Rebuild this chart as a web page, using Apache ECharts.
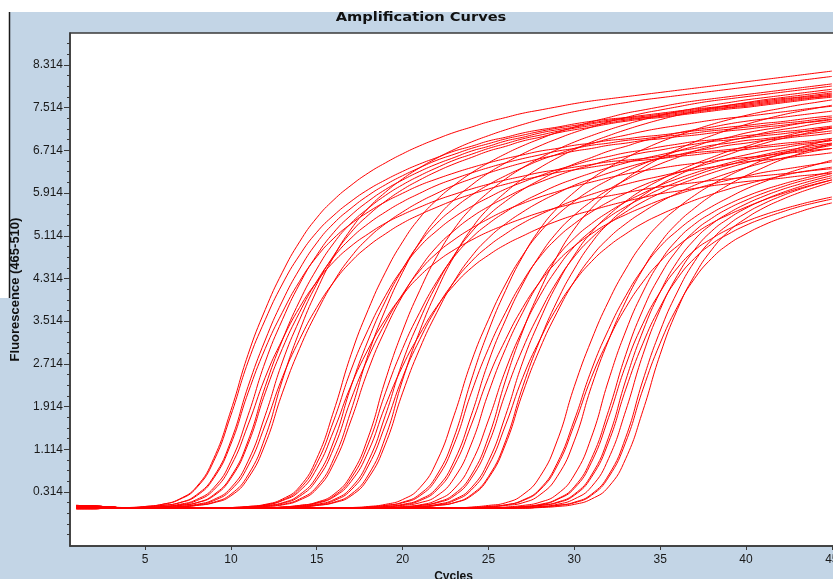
<!DOCTYPE html>
<html>
<head>
<meta charset="utf-8">
<title>Amplification Curves</title>
<script src="https://cdn.jsdelivr.net/npm/echarts@6/dist/echarts.min.js"></script>
<style>
  html, body { margin: 0; padding: 0; background: #c3d5e6; }
  #chart { width: 833px; height: 579px; }
</style>
</head>
<body>
<div id="chart"></div>
<script>
// cycles 1..45
var cycles = [1,2,3,4,5,6,7,8,9,10,11,12,13,14,15,16,17,18,19,20,21,22,23,24,25,26,27,28,29,30,31,32,33,34,35,36,37,38,39,40,41,42,43,44,45];
var xTickLabels = [5, 10, 15, 20, 25, 30, 35, 40, 45];
var yTickLabels = [0.314, 1.114, 1.914, 2.714, 3.514, 4.314, 5.114, 5.914, 6.714, 7.514, 8.314];

// fluorescence read per cycle, grouped by bundle (earliest first)
var groupA = [
  [.05,.04,.03,.02,.04,.08,.18,.41,.94,1.84,2.89,3.73,4.43,5.00,5.45,
   5.79,6.06,6.29,6.48,6.65,6.80,6.93,7.05,7.15,7.25,7.33,7.41,7.47,7.53,7.59,
   7.64,7.68,7.72,7.76,7.80,7.84,7.88,7.92,7.96,8.00,8.04,8.08,8.12,8.16,8.20],
  [0,0,.01,.02,.04,.08,.17,.39,.89,1.75,2.75,3.54,4.21,4.75,5.18,
   5.50,5.76,5.98,6.16,6.32,6.46,6.58,6.70,6.79,6.89,6.96,7.04,7.10,7.15,7.21,
   7.26,7.30,7.33,7.37,7.41,7.45,7.49,7.52,7.56,7.60,7.64,7.68,7.71,7.75,7.79],
  [.06,.05,.03,.01,.03,.06,.11,.24,.57,1.21,2.17,3.00,3.68,4.26,4.72,
   5.07,5.34,5.56,5.75,5.91,6.06,6.18,6.29,6.39,6.48,6.56,6.63,6.70,6.75,6.81,
   6.85,6.90,6.93,6.97,7.00,7.04,7.08,7.11,7.15,7.18,7.22,7.25,7.29,7.33,7.36],
  [.01,.01,.01,.01,.02,.04,.08,.17,.39,.89,1.75,2.75,3.54,4.21,4.75,
   5.18,5.50,5.76,5.98,6.16,6.32,6.46,6.58,6.70,6.79,6.89,6.96,7.04,7.10,7.15,
   7.21,7.26,7.30,7.33,7.37,7.41,7.45,7.49,7.52,7.56,7.60,7.64,7.68,7.71,7.75],
  [.02,.03,.02,.01,.02,.04,.07,.15,.35,.80,1.57,2.46,3.17,3.77,4.25,
   4.63,4.92,5.15,5.35,5.51,5.65,5.78,5.89,5.99,6.08,6.16,6.23,6.30,6.35,6.40,
   6.45,6.50,6.53,6.56,6.60,6.63,6.67,6.70,6.73,6.77,6.80,6.84,6.87,6.90,6.94],
  [.04,.02,.01,.01,.01,.03,.06,.11,.26,.60,1.27,2.29,3.16,3.89,4.49,
   4.98,5.35,5.63,5.87,6.07,6.24,6.39,6.53,6.64,6.75,6.84,6.93,7.00,7.07,7.13,
   7.18,7.23,7.28,7.32,7.35,7.39,7.43,7.47,7.51,7.54,7.58,7.62,7.66,7.70,7.73],
  [.05,.04,.03,.01,.01,.03,.06,.11,.24,.57,1.21,2.17,3.00,3.68,4.26,
   4.72,5.07,5.34,5.56,5.75,5.91,6.06,6.18,6.29,6.39,6.48,6.56,6.63,6.70,6.75,
   6.81,6.85,6.90,6.93,6.97,7.00,7.04,7.08,7.11,7.15,7.18,7.22,7.25,7.29,7.33],
  [0,0,.01,.01,.01,.02,.04,.08,.17,.39,.89,1.75,2.75,3.54,4.21,
   4.75,5.18,5.50,5.76,5.98,6.16,6.32,6.46,6.58,6.70,6.79,6.89,6.96,7.04,7.10,
   7.15,7.21,7.26,7.30,7.33,7.37,7.41,7.45,7.49,7.52,7.56,7.60,7.64,7.68,7.71],
  [.03,.02,.02,.01,.01,.02,.04,.07,.15,.35,.80,1.57,2.46,3.17,3.77,
   4.25,4.63,4.92,5.15,5.35,5.51,5.65,5.78,5.89,5.99,6.08,6.16,6.23,6.30,6.35,
   6.40,6.45,6.50,6.53,6.56,6.60,6.63,6.67,6.70,6.73,6.77,6.80,6.84,6.87,6.90],
  [.06,.05,.03,.01,.01,.01,.03,.06,.11,.24,.57,1.21,2.17,3.00,3.68,
   4.26,4.72,5.07,5.34,5.56,5.75,5.91,6.06,6.18,6.29,6.39,6.48,6.56,6.63,6.70,
   6.75,6.81,6.85,6.90,6.93,6.97,7.00,7.04,7.08,7.11,7.15,7.18,7.22,7.25,7.29],
  [.01,.01,.01,.01,.01,.01,.03,.06,.12,.27,.63,1.34,2.41,3.33,4.09,
   4.73,5.24,5.63,5.93,6.18,6.39,6.57,6.73,6.87,6.99,7.10,7.20,7.29,7.37,7.44,
   7.50,7.56,7.61,7.66,7.70,7.74,7.78,7.82,7.86,7.90,7.94,7.98,8.02,8.06,8.10],
  [.02,.03,.02,.01,.03,.06,.11,.26,.60,1.27,2.29,3.16,3.89,4.49,4.98,
   5.35,5.63,5.87,6.07,6.24,6.39,6.53,6.64,6.75,6.84,6.93,7.00,7.07,7.13,7.18,
   7.23,7.28,7.32,7.35,7.39,7.43,7.47,7.51,7.54,7.58,7.62,7.66,7.70,7.73,7.77]
];

var groupB = [
  [.04,.02,.01,.01,.01,.01,.01,.01,.01,.02,.04,.08,.18,.41,.94,
   1.84,2.89,3.73,4.43,5.00,5.45,5.79,6.06,6.29,6.48,6.65,6.80,6.93,7.05,7.15,
   7.25,7.33,7.41,7.47,7.53,7.59,7.64,7.68,7.72,7.76,7.80,7.84,7.88,7.92,7.96],
  [.05,.04,.03,.01,.01,.01,.01,.01,.01,.02,.04,.07,.16,.37,.85,
   1.66,2.60,3.36,3.99,4.50,4.91,5.21,5.46,5.66,5.83,5.99,6.12,6.24,6.35,6.44,
   6.53,6.60,6.67,6.72,6.78,6.83,6.88,6.91,6.95,6.99,7.02,7.06,7.09,7.13,7.17],
  [0,0,.01,.01,.01,.01,.01,.01,.01,.01,.03,.06,.11,.26,.60,
   1.27,2.29,3.16,3.89,4.49,4.98,5.35,5.63,5.87,6.07,6.24,6.39,6.53,6.64,6.75,
   6.84,6.93,7.00,7.07,7.13,7.18,7.23,7.28,7.32,7.35,7.39,7.43,7.47,7.51,7.54],
  [.03,.02,.02,.01,.01,.01,.01,.01,.01,.01,.03,.05,.10,.23,.54,
   1.14,2.05,2.83,3.48,4.02,4.46,4.79,5.04,5.25,5.43,5.59,5.72,5.84,5.94,6.04,
   6.12,6.20,6.27,6.33,6.38,6.43,6.47,6.51,6.55,6.58,6.61,6.65,6.68,6.72,6.75],
  [.06,.05,.03,.01,.01,.01,.01,.01,.01,.01,.02,.04,.08,.18,.41,
   .94,1.84,2.89,3.73,4.43,5.00,5.45,5.79,6.06,6.29,6.48,6.65,6.80,6.93,7.05,
   7.15,7.25,7.33,7.41,7.47,7.53,7.59,7.64,7.68,7.72,7.76,7.80,7.84,7.88,7.92],
  [.01,.01,.01,.01,.01,.01,.01,.01,.01,.01,.02,.04,.07,.16,.37,
   .85,1.66,2.60,3.36,3.99,4.50,4.91,5.21,5.46,5.66,5.83,5.99,6.12,6.24,6.35,
   6.44,6.53,6.60,6.67,6.72,6.78,6.83,6.88,6.91,6.95,6.99,7.02,7.06,7.09,7.13],
  [.02,.03,.02,.01,.01,.01,.01,.01,.01,.02,.03,.07,.15,.33,.75,
   1.47,2.31,2.99,3.55,4.00,4.36,4.63,4.85,5.03,5.19,5.32,5.44,5.55,5.64,5.72,
   5.80,5.86,5.92,5.98,6.03,6.07,6.11,6.15,6.18,6.21,6.24,6.27,6.30,6.34,6.37]
];

var groupC = [
  [.04,.02,.01,.01,.01,.01,.01,.01,.01,.01,.01,.01,.03,.06,.12,
   .27,.63,1.34,2.41,3.33,4.09,4.73,5.24,5.63,5.93,6.18,6.39,6.57,6.73,6.87,
   6.99,7.10,7.20,7.29,7.37,7.44,7.50,7.56,7.61,7.66,7.70,7.74,7.78,7.82,7.86],
  [.05,.04,.03,.01,.01,.01,.01,.01,.01,.01,.01,.01,.03,.06,.11,
   .24,.57,1.21,2.17,3.00,3.68,4.26,4.72,5.07,5.34,5.56,5.75,5.91,6.06,6.18,
   6.29,6.39,6.48,6.56,6.63,6.70,6.75,6.81,6.85,6.90,6.93,6.97,7.00,7.04,7.08],
  [0,0,.01,.01,.01,.01,.01,.01,.01,.01,.01,.01,.02,.04,.08,
   .17,.39,.89,1.75,2.75,3.54,4.21,4.75,5.18,5.50,5.76,5.98,6.16,6.32,6.46,
   6.58,6.70,6.79,6.89,6.96,7.04,7.10,7.15,7.21,7.26,7.30,7.33,7.37,7.41,7.45],
  [.03,.02,.02,.01,.01,.01,.01,.01,.01,.01,.01,.01,.02,.04,.07,
   .15,.35,.80,1.57,2.46,3.17,3.77,4.25,4.63,4.92,5.15,5.35,5.51,5.65,5.78,
   5.89,5.99,6.08,6.16,6.23,6.30,6.35,6.40,6.45,6.50,6.53,6.56,6.60,6.63,6.67],
  [.06,.05,.03,.01,.01,.01,.01,.01,.01,.01,.01,.01,.01,.03,.06,
   .12,.27,.63,1.34,2.41,3.33,4.09,4.73,5.24,5.63,5.93,6.18,6.39,6.57,6.73,
   6.87,6.99,7.10,7.20,7.29,7.37,7.44,7.50,7.56,7.61,7.66,7.70,7.74,7.78,7.82],
  [.01,.01,.01,.01,.01,.01,.01,.01,.01,.01,.01,.01,.01,.03,.06,
   .11,.24,.57,1.21,2.17,3.00,3.68,4.26,4.72,5.07,5.34,5.56,5.75,5.91,6.06,
   6.18,6.29,6.39,6.48,6.56,6.63,6.70,6.75,6.81,6.85,6.90,6.93,6.97,7.00,7.04],
  [.02,.03,.02,.01,.01,.01,.01,.01,.01,.01,.01,.01,.03,.05,.10,
   .22,.51,1.07,1.93,2.67,3.27,3.79,4.19,4.51,4.75,4.95,5.11,5.26,5.39,5.50,
   5.59,5.68,5.76,5.83,5.90,5.95,6.00,6.05,6.09,6.13,6.16,6.19,6.23,6.26,6.29]
];

var groupD = [
  [.04,.02,.01,.01,.01,.01,.01,.01,.01,.01,.01,.01,.01,.01,.01,
   .01,.02,.04,.08,.17,.39,.89,1.75,2.75,3.54,4.21,4.75,5.18,5.50,5.76,
   5.98,6.16,6.32,6.46,6.58,6.70,6.79,6.89,6.96,7.04,7.10,7.15,7.21,7.26,7.30],
  [.05,.04,.03,.01,.01,.01,.01,.01,.01,.01,.01,.01,.01,.01,.01,
   .01,.01,.03,.06,.12,.27,.63,1.34,2.41,3.33,4.09,4.73,5.24,5.63,5.93,
   6.18,6.39,6.57,6.73,6.87,6.99,7.10,7.20,7.29,7.37,7.44,7.50,7.56,7.61,7.66],
  [0,0,.01,.01,.01,.01,.01,.01,.01,.01,.01,.01,.01,.01,.01,
   .01,.01,.03,.06,.11,.24,.57,1.21,2.17,3.00,3.68,4.26,4.72,5.07,5.34,
   5.56,5.75,5.91,6.06,6.18,6.29,6.39,6.48,6.56,6.63,6.70,6.75,6.81,6.85,6.90],
  [.03,.02,.02,.01,.01,.01,.01,.01,.01,.01,.01,.01,.01,.01,.01,
   .01,.01,.02,.04,.08,.17,.39,.89,1.75,2.75,3.54,4.21,4.75,5.18,5.50,
   5.76,5.98,6.16,6.32,6.46,6.58,6.70,6.79,6.89,6.96,7.04,7.10,7.15,7.21,7.26],
  [.06,.05,.03,.01,.01,.01,.01,.01,.01,.01,.01,.01,.01,.01,.01,
   .01,.01,.02,.04,.07,.15,.35,.80,1.57,2.46,3.17,3.77,4.25,4.63,4.92,
   5.15,5.35,5.51,5.65,5.78,5.89,5.99,6.08,6.16,6.23,6.30,6.35,6.40,6.45,6.50],
  [.01,.01,.01,.01,.01,.01,.01,.01,.01,.01,.01,.01,.01,.01,.01,
   .01,.01,.01,.03,.06,.11,.24,.57,1.21,2.17,3.00,3.68,4.26,4.72,5.07,
   5.34,5.56,5.75,5.91,6.06,6.18,6.29,6.39,6.48,6.56,6.63,6.70,6.75,6.81,6.85]
];

var groupE = [
  [.02,.03,.02,.01,.01,.01,.01,.01,.01,.01,.01,.01,.01,.01,.01,
   .01,.01,.01,.01,.03,.06,.12,.27,.63,1.34,2.41,3.33,4.09,4.73,5.24,
   5.63,5.93,6.18,6.39,6.57,6.73,6.87,6.99,7.10,7.20,7.29,7.37,7.44,7.50,7.56],
  [.04,.02,.01,.01,.01,.01,.01,.01,.01,.01,.01,.01,.01,.01,.01,
   .01,.01,.01,.01,.03,.06,.11,.24,.57,1.21,2.17,3.00,3.68,4.26,4.72,
   5.07,5.34,5.56,5.75,5.91,6.06,6.18,6.29,6.39,6.48,6.56,6.63,6.70,6.75,6.81],
  [.05,.04,.03,.01,.01,.01,.01,.01,.01,.01,.01,.01,.01,.01,.01,
   .01,.01,.01,.01,.02,.04,.08,.17,.39,.89,1.75,2.75,3.54,4.21,4.75,
   5.18,5.50,5.76,5.98,6.16,6.32,6.46,6.58,6.70,6.79,6.89,6.96,7.04,7.10,7.15],
  [0,0,.01,.01,.01,.01,.01,.01,.01,.01,.01,.01,.01,.01,.01,
   .01,.01,.01,.01,.02,.04,.07,.15,.35,.80,1.57,2.46,3.17,3.77,4.25,
   4.63,4.92,5.15,5.35,5.51,5.65,5.78,5.89,5.99,6.08,6.16,6.23,6.30,6.35,6.40],
  [.03,.02,.02,.01,.01,.01,.01,.01,.01,.01,.01,.01,.01,.01,.01,
   .01,.01,.01,.01,.01,.03,.06,.11,.26,.60,1.27,2.29,3.16,3.89,4.49,
   4.98,5.35,5.63,5.87,6.07,6.24,6.39,6.53,6.64,6.75,6.84,6.93,7.00,7.07,7.13],
  [.06,.05,.03,.01,.01,.01,.01,.01,.01,.01,.01,.01,.01,.01,.01,
   .01,.01,.01,.01,.01,.03,.06,.11,.24,.57,1.21,2.17,3.00,3.68,4.26,
   4.72,5.07,5.34,5.56,5.75,5.91,6.06,6.18,6.29,6.39,6.48,6.56,6.63,6.70,6.75],
  [.01,.01,.01,.01,.01,.01,.01,.01,.01,.01,.01,.01,.01,.01,.01,
   .01,.01,.01,.02,.04,.07,.16,.37,.85,1.66,2.60,3.36,3.99,4.50,4.91,
   5.21,5.46,5.66,5.83,5.99,6.12,6.24,6.35,6.44,6.53,6.60,6.67,6.72,6.78,6.83]
];

var groupF = [
  [.02,.03,.02,.01,.01,.01,.01,.01,.01,.01,.01,.01,.01,.01,.01,
   .01,.01,.01,.01,.01,.01,.01,.01,.03,.06,.11,.26,.60,1.27,2.29,
   3.16,3.89,4.49,4.98,5.35,5.63,5.87,6.07,6.24,6.39,6.53,6.64,6.75,6.84,6.93],
  [.04,.02,.01,.01,.01,.01,.01,.01,.01,.01,.01,.01,.01,.01,.01,
   .01,.01,.01,.01,.01,.01,.01,.01,.02,.04,.07,.16,.37,.85,1.66,
   2.60,3.36,3.99,4.50,4.91,5.21,5.46,5.66,5.83,5.99,6.12,6.24,6.35,6.44,6.53],
  [.05,.04,.03,.01,.01,.01,.01,.01,.01,.01,.01,.01,.01,.01,.01,
   .01,.01,.01,.01,.01,.01,.01,.01,.01,.03,.06,.11,.26,.60,1.27,
   2.29,3.16,3.89,4.49,4.98,5.35,5.63,5.87,6.07,6.24,6.39,6.53,6.64,6.75,6.84],
  [0,0,.01,.01,.01,.01,.01,.01,.01,.01,.01,.01,.01,.01,.01,
   .01,.01,.01,.01,.01,.01,.01,.01,.02,.04,.07,.15,.35,.80,1.57,
   2.46,3.17,3.77,4.25,4.63,4.92,5.15,5.35,5.51,5.65,5.78,5.89,5.99,6.08,6.16],
  [.03,.02,.02,.01,.01,.01,.01,.01,.01,.01,.01,.01,.01,.01,.01,
   .01,.01,.01,.01,.01,.01,.01,.01,.01,.01,.03,.06,.12,.27,.63,
   1.34,2.41,3.33,4.06,4.63,5.04,5.33,5.54,5.71,5.85,5.97,6.07,6.16,6.24,6.32],
  [.06,.05,.03,.01,.01,.01,.01,.01,.01,.01,.01,.01,.01,.01,.01,
   .01,.01,.01,.01,.01,.01,.01,.01,.01,.01,.02,.04,.07,.17,.38,
   .87,1.71,2.69,3.47,4.06,4.51,4.84,5.06,5.24,5.38,5.50,5.60,5.69,5.77,5.84],
  [.01,.01,.01,.01,.01,.01,.01,.01,.01,.01,.01,.01,.01,.01,.01,
   .01,.01,.01,.01,.01,.01,.01,.01,.01,.01,.02,.04,.08,.18,.41,
   .94,1.84,2.89,3.73,4.37,4.85,5.20,5.44,5.63,5.78,5.91,6.02,6.12,6.20,6.28],
  [.02,.03,.02,.01,.01,.01,.01,.01,.01,.01,.01,.01,.01,.01,.01,
   .01,.01,.01,.01,.01,.01,.01,.01,.01,.01,.01,.03,.06,.12,.27,
   .63,1.34,2.41,3.33,4.06,4.63,5.04,5.33,5.54,5.71,5.85,5.97,6.07,6.16,6.24],
  [.04,.02,.01,.01,.01,.01,.01,.01,.01,.01,.01,.01,.01,.01,.01,
   .01,.01,.01,.01,.01,.01,.01,.01,.01,.01,.01,.03,.06,.11,.25,
   .59,1.25,2.24,3.10,3.78,4.31,4.69,4.96,5.15,5.31,5.44,5.55,5.65,5.73,5.80],
  [.05,.04,.03,.01,.01,.01,.01,.01,.01,.01,.01,.01,.01,.01,.01,
   .01,.01,.01,.01,.01,.01,.01,.01,.01,.01,.01,.02,.04,.08,.18,
   .41,.94,1.84,2.89,3.73,4.37,4.85,5.20,5.44,5.63,5.78,5.91,6.02,6.12,6.20],
  [0,0,.01,.01,.01,.01,.01,.01,.01,.01,.01,.01,.01,.01,.01,
   .01,.01,.01,.01,.01,.01,.01,.01,.01,.01,.01,.01,.03,.06,.11,
   .25,.59,1.25,2.24,3.10,3.78,4.31,4.69,4.96,5.15,5.31,5.44,5.55,5.65,5.73],
  [.03,.02,.02,.01,.01,.01,.01,.01,.01,.01,.01,.01,.01,.01,.01,
   .01,.01,.01,.01,.01,.01,.01,.01,.01,.01,.01,.01,.03,.06,.12,
   .27,.63,1.34,2.41,3.33,4.06,4.63,5.04,5.33,5.54,5.71,5.85,5.97,6.07,6.16],
  [.06,.05,.03,.01,.01,.01,.01,.01,.01,.01,.01,.01,.01,.01,.01,
   .01,.01,.01,.01,.01,.01,.01,.01,.01,.01,.01,.01,.02,.04,.08,
   .18,.41,.94,1.84,2.89,3.73,4.37,4.85,5.20,5.44,5.63,5.78,5.91,6.02,6.12]
];

var yMin = -0.7, yMax = 8.914;

// minor ticks every 0.2 between labelled ones
var yMinorTicks = [];
for (var k = -4; k <= 43; k++) {
  var t = Math.round((0.314 + k * 0.2) * 1000) / 1000;
  if (t > yMin + 0.05 && t < yMax) yMinorTicks.push(t);
}

var curves = [].concat(groupA, groupB, groupC, groupD, groupE, groupF);
var series = curves.map(function (vals) {
  return {
    type: 'line',
    data: vals.map(function (v, i) { return [cycles[i], v]; }),
    symbol: 'none',
    smooth: 0.5,
    silent: true,
    lineStyle: { color: '#ff0000', width: 1 }
  };
});

var labelFont = 'Liberation Sans';

var chart = echarts.init(document.getElementById('chart'));
chart.setOption({
  backgroundColor: '#c3d5e6',
  animation: false,
  graphic: [
    { type: 'rect', shape: { x: 0, y: 0, width: 833, height: 12 }, style: { fill: '#ffffff' } },
    { type: 'rect', shape: { x: 0, y: 12, width: 9, height: 286 }, style: { fill: '#ffffff' } },
    { type: 'line', shape: { x1: 9.5, y1: 12, x2: 9.5, y2: 298 }, style: { stroke: '#1a1a1a', lineWidth: 1.5 } },
    {
      type: 'text', x: 421, y: 17.5, scaleX: 1.22,
      style: {
        text: 'Amplification Curves',
        font: 'bold 12px "DejaVu Sans"',
        fill: '#111',
        align: 'center',
        verticalAlign: 'middle'
      }
    }
  ],
  grid: {
    left: 70, top: 33, right: -4, bottom: 33,
    show: true,
    backgroundColor: '#ffffff',
    borderColor: '#3a3a3a',
    borderWidth: 1.5,
    outerBoundsMode: 'none'
  },
  xAxis: {
    type: 'value',
    min: 0.63,
    max: 45.3,
    name: 'Cycles',
    nameLocation: 'middle',
    nameGap: 22,
    nameTextStyle: { fontFamily: labelFont, fontWeight: 'bold', fontSize: 12, color: '#111' },
    axisLine: { show: true, onZero: false, lineStyle: { color: '#3a3a3a', width: 1.5 } },
    axisTick: { show: true, customValues: xTickLabels, length: 4, lineStyle: { color: '#3a3a3a' } },
    axisLabel: { customValues: xTickLabels, margin: 8, fontFamily: labelFont, fontSize: 12, color: '#1a1a1a' },
    splitLine: { show: false }
  },
  yAxis: [
    {
      type: 'value',
      min: yMin,
      max: yMax,
      name: 'Fluorescence (465-510)',
      nameLocation: 'middle',
      nameGap: 48,
      nameTextStyle: { fontFamily: labelFont, fontWeight: 'bold', fontSize: 13, color: '#111' },
      axisLine: { show: true, onZero: false, lineStyle: { color: '#3a3a3a', width: 1.5 } },
      axisTick: { show: true, customValues: yTickLabels, length: 6, lineStyle: { color: '#3a3a3a' } },
      axisLabel: {
        customValues: yTickLabels,
        margin: 7,
        fontFamily: labelFont,
        fontSize: 12,
        color: '#1a1a1a',
        formatter: function (v) { return v.toFixed(3); }
      },
      splitLine: { show: false }
    },
    {
      type: 'value',
      min: yMin,
      max: yMax,
      position: 'left',
      axisLine: { show: false, onZero: false },
      axisTick: { show: true, customValues: yMinorTicks, length: 3, lineStyle: { color: '#3a3a3a' } },
      axisLabel: { show: false },
      splitLine: { show: false }
    }
  ],
  series: series
});
</script>
</body>
</html>
